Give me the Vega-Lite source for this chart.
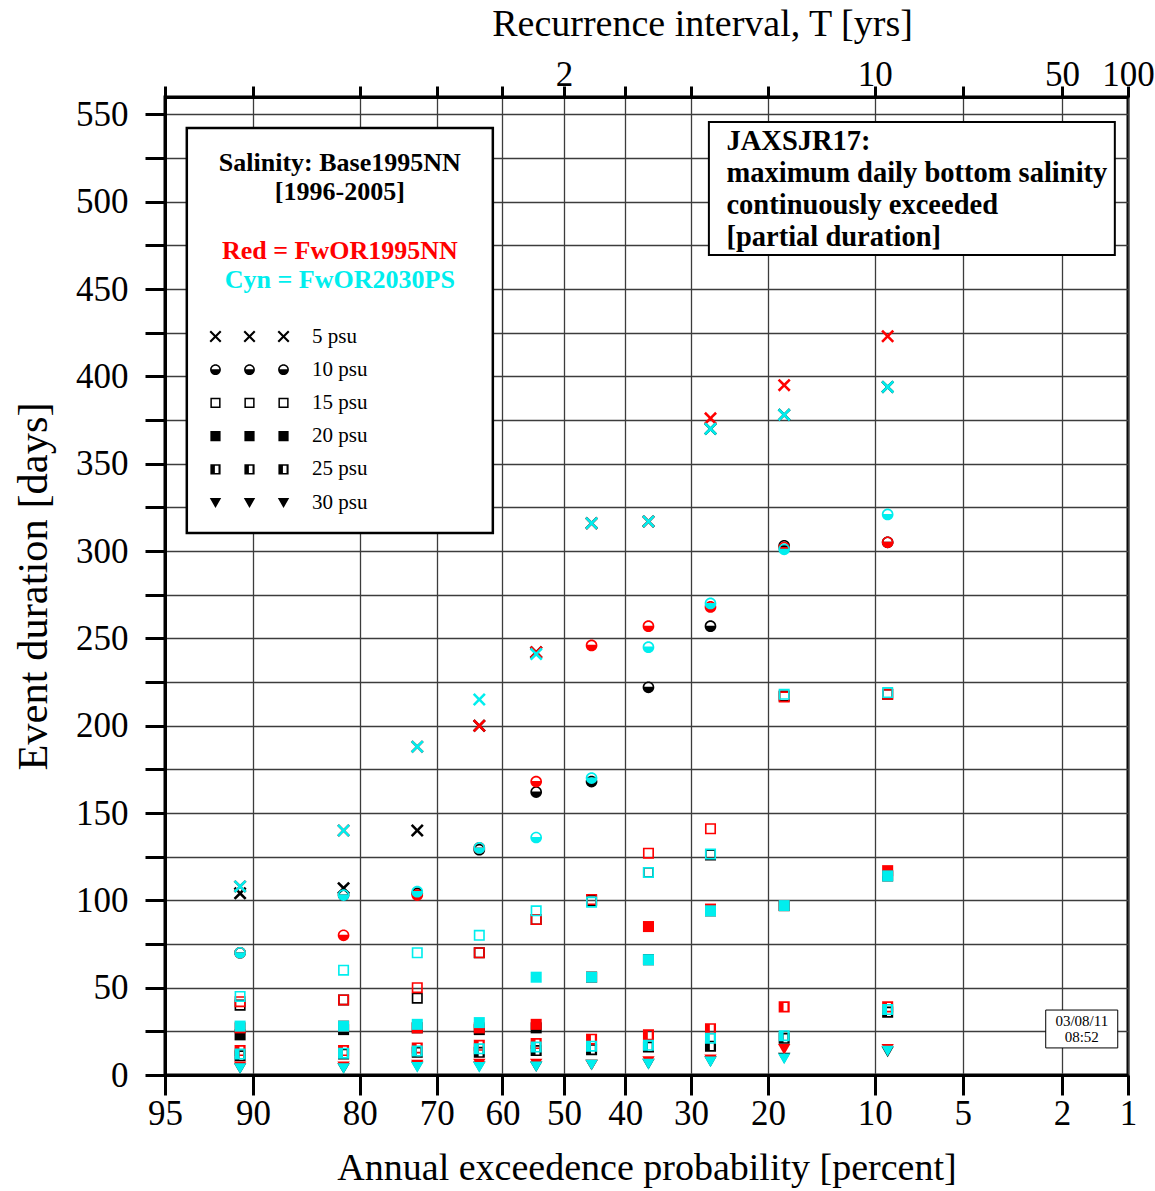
{
"$schema":"https://vega.github.io/schema/vega-lite/v6.json",
"width":963,"height":978,
"autosize":{"type":"none"},
"padding":{"left":165,"top":97,"right":27,"bottom":116},
"background":"white",
"config":{"view":{"stroke":"black","strokeWidth":3},
"axis":{"labelFont":"Liberation Serif","titleFont":"Liberation Serif","labelColor":"black","titleColor":"black","titleFontWeight":"normal","domainColor":"black","domainWidth":3,"tickColor":"black","tickWidth":3,"gridColor":"#3c3c3c","gridWidth":1.3,"gridOpacity":1,"labelFlush":false,"labelOverlap":false,"labelBound":false},
"text":{"font":"Liberation Serif"}},
"resolve":{"scale":{"shape":"independent"},"axis":{"x":"independent","y":"independent"}},
"layer":[
{"data":{"values":[
{"aep":90.91,"z":-1.3352,"psu":"5 psu","run":"Base1995NN","days":104},
{"aep":81.82,"z":-0.9085,"psu":"5 psu","run":"Base1995NN","days":107},
{"aep":72.73,"z":-0.6046,"psu":"5 psu","run":"Base1995NN","days":140},
{"aep":63.64,"z":-0.3488,"psu":"5 psu","run":"Base1995NN","days":200},
{"aep":54.55,"z":-0.1142,"psu":"5 psu","run":"Base1995NN","days":242},
{"aep":45.45,"z":0.1142,"psu":"5 psu","run":"Base1995NN","days":316},
{"aep":36.36,"z":0.3488,"psu":"5 psu","run":"Base1995NN","days":317},
{"aep":27.27,"z":0.6046,"psu":"5 psu","run":"Base1995NN","days":370},
{"aep":18.18,"z":0.9085,"psu":"5 psu","run":"Base1995NN","days":378},
{"aep":9.09,"z":1.3352,"psu":"5 psu","run":"Base1995NN","days":394},
{"aep":90.91,"z":-1.3352,"psu":"10 psu","run":"Base1995NN","days":70},
{"aep":81.82,"z":-0.9085,"psu":"10 psu","run":"Base1995NN","days":103},
{"aep":72.73,"z":-0.6046,"psu":"10 psu","run":"Base1995NN","days":104},
{"aep":63.64,"z":-0.3488,"psu":"10 psu","run":"Base1995NN","days":129},
{"aep":54.55,"z":-0.1142,"psu":"10 psu","run":"Base1995NN","days":162},
{"aep":45.45,"z":0.1142,"psu":"10 psu","run":"Base1995NN","days":168},
{"aep":36.36,"z":0.3488,"psu":"10 psu","run":"Base1995NN","days":222},
{"aep":27.27,"z":0.6046,"psu":"10 psu","run":"Base1995NN","days":257},
{"aep":18.18,"z":0.9085,"psu":"10 psu","run":"Base1995NN","days":303},
{"aep":9.09,"z":1.3352,"psu":"10 psu","run":"Base1995NN","days":305},
{"aep":90.91,"z":-1.3352,"psu":"15 psu","run":"Base1995NN","days":40},
{"aep":81.82,"z":-0.9085,"psu":"15 psu","run":"Base1995NN","days":43},
{"aep":72.73,"z":-0.6046,"psu":"15 psu","run":"Base1995NN","days":44},
{"aep":63.64,"z":-0.3488,"psu":"15 psu","run":"Base1995NN","days":70},
{"aep":54.55,"z":-0.1142,"psu":"15 psu","run":"Base1995NN","days":89},
{"aep":45.45,"z":0.1142,"psu":"15 psu","run":"Base1995NN","days":100},
{"aep":36.36,"z":0.3488,"psu":"15 psu","run":"Base1995NN","days":116},
{"aep":27.27,"z":0.6046,"psu":"15 psu","run":"Base1995NN","days":126},
{"aep":18.18,"z":0.9085,"psu":"15 psu","run":"Base1995NN","days":217},
{"aep":9.09,"z":1.3352,"psu":"15 psu","run":"Base1995NN","days":218},
{"aep":90.91,"z":-1.3352,"psu":"20 psu","run":"Base1995NN","days":23},
{"aep":81.82,"z":-0.9085,"psu":"20 psu","run":"Base1995NN","days":26},
{"aep":72.73,"z":-0.6046,"psu":"20 psu","run":"Base1995NN","days":27},
{"aep":63.64,"z":-0.3488,"psu":"20 psu","run":"Base1995NN","days":26},
{"aep":54.55,"z":-0.1142,"psu":"20 psu","run":"Base1995NN","days":27},
{"aep":45.45,"z":0.1142,"psu":"20 psu","run":"Base1995NN","days":56},
{"aep":36.36,"z":0.3488,"psu":"20 psu","run":"Base1995NN","days":66},
{"aep":27.27,"z":0.6046,"psu":"20 psu","run":"Base1995NN","days":94},
{"aep":18.18,"z":0.9085,"psu":"20 psu","run":"Base1995NN","days":97},
{"aep":9.09,"z":1.3352,"psu":"20 psu","run":"Base1995NN","days":114},
{"aep":90.91,"z":-1.3352,"psu":"25 psu","run":"Base1995NN","days":11},
{"aep":81.82,"z":-0.9085,"psu":"25 psu","run":"Base1995NN","days":12},
{"aep":72.73,"z":-0.6046,"psu":"25 psu","run":"Base1995NN","days":13},
{"aep":63.64,"z":-0.3488,"psu":"25 psu","run":"Base1995NN","days":13},
{"aep":54.55,"z":-0.1142,"psu":"25 psu","run":"Base1995NN","days":14},
{"aep":45.45,"z":0.1142,"psu":"25 psu","run":"Base1995NN","days":14.5},
{"aep":36.36,"z":0.3488,"psu":"25 psu","run":"Base1995NN","days":16},
{"aep":27.27,"z":0.6046,"psu":"25 psu","run":"Base1995NN","days":16.5},
{"aep":18.18,"z":0.9085,"psu":"25 psu","run":"Base1995NN","days":21},
{"aep":9.09,"z":1.3352,"psu":"25 psu","run":"Base1995NN","days":36},
{"aep":90.91,"z":-1.3352,"psu":"30 psu","run":"Base1995NN","days":4},
{"aep":81.82,"z":-0.9085,"psu":"30 psu","run":"Base1995NN","days":4},
{"aep":72.73,"z":-0.6046,"psu":"30 psu","run":"Base1995NN","days":5},
{"aep":63.64,"z":-0.3488,"psu":"30 psu","run":"Base1995NN","days":5},
{"aep":54.55,"z":-0.1142,"psu":"30 psu","run":"Base1995NN","days":5},
{"aep":45.45,"z":0.1142,"psu":"30 psu","run":"Base1995NN","days":6},
{"aep":36.36,"z":0.3488,"psu":"30 psu","run":"Base1995NN","days":6.5},
{"aep":27.27,"z":0.6046,"psu":"30 psu","run":"Base1995NN","days":8},
{"aep":18.18,"z":0.9085,"psu":"30 psu","run":"Base1995NN","days":10},
{"aep":9.09,"z":1.3352,"psu":"30 psu","run":"Base1995NN","days":13.5},
{"aep":90.91,"z":-1.3352,"psu":"5 psu","run":"FwOR1995NN","days":108},
{"aep":81.82,"z":-0.9085,"psu":"5 psu","run":"FwOR1995NN","days":140},
{"aep":72.73,"z":-0.6046,"psu":"5 psu","run":"FwOR1995NN","days":188},
{"aep":63.64,"z":-0.3488,"psu":"5 psu","run":"FwOR1995NN","days":200},
{"aep":54.55,"z":-0.1142,"psu":"5 psu","run":"FwOR1995NN","days":242},
{"aep":45.45,"z":0.1142,"psu":"5 psu","run":"FwOR1995NN","days":316},
{"aep":36.36,"z":0.3488,"psu":"5 psu","run":"FwOR1995NN","days":317},
{"aep":27.27,"z":0.6046,"psu":"5 psu","run":"FwOR1995NN","days":376},
{"aep":18.18,"z":0.9085,"psu":"5 psu","run":"FwOR1995NN","days":395},
{"aep":9.09,"z":1.3352,"psu":"5 psu","run":"FwOR1995NN","days":423},
{"aep":90.91,"z":-1.3352,"psu":"10 psu","run":"FwOR1995NN","days":70},
{"aep":81.82,"z":-0.9085,"psu":"10 psu","run":"FwOR1995NN","days":80},
{"aep":72.73,"z":-0.6046,"psu":"10 psu","run":"FwOR1995NN","days":103},
{"aep":63.64,"z":-0.3488,"psu":"10 psu","run":"FwOR1995NN","days":130},
{"aep":54.55,"z":-0.1142,"psu":"10 psu","run":"FwOR1995NN","days":168},
{"aep":45.45,"z":0.1142,"psu":"10 psu","run":"FwOR1995NN","days":246},
{"aep":36.36,"z":0.3488,"psu":"10 psu","run":"FwOR1995NN","days":257},
{"aep":27.27,"z":0.6046,"psu":"10 psu","run":"FwOR1995NN","days":268},
{"aep":18.18,"z":0.9085,"psu":"10 psu","run":"FwOR1995NN","days":302},
{"aep":9.09,"z":1.3352,"psu":"10 psu","run":"FwOR1995NN","days":305},
{"aep":90.91,"z":-1.3352,"psu":"15 psu","run":"FwOR1995NN","days":42},
{"aep":81.82,"z":-0.9085,"psu":"15 psu","run":"FwOR1995NN","days":43},
{"aep":72.73,"z":-0.6046,"psu":"15 psu","run":"FwOR1995NN","days":50},
{"aep":63.64,"z":-0.3488,"psu":"15 psu","run":"FwOR1995NN","days":70},
{"aep":54.55,"z":-0.1142,"psu":"15 psu","run":"FwOR1995NN","days":89},
{"aep":45.45,"z":0.1142,"psu":"15 psu","run":"FwOR1995NN","days":100.5},
{"aep":36.36,"z":0.3488,"psu":"15 psu","run":"FwOR1995NN","days":127},
{"aep":27.27,"z":0.6046,"psu":"15 psu","run":"FwOR1995NN","days":141},
{"aep":18.18,"z":0.9085,"psu":"15 psu","run":"FwOR1995NN","days":216.5},
{"aep":9.09,"z":1.3352,"psu":"15 psu","run":"FwOR1995NN","days":218},
{"aep":90.91,"z":-1.3352,"psu":"20 psu","run":"FwOR1995NN","days":27},
{"aep":81.82,"z":-0.9085,"psu":"20 psu","run":"FwOR1995NN","days":28},
{"aep":72.73,"z":-0.6046,"psu":"20 psu","run":"FwOR1995NN","days":27},
{"aep":63.64,"z":-0.3488,"psu":"20 psu","run":"FwOR1995NN","days":27},
{"aep":54.55,"z":-0.1142,"psu":"20 psu","run":"FwOR1995NN","days":29},
{"aep":45.45,"z":0.1142,"psu":"20 psu","run":"FwOR1995NN","days":56},
{"aep":36.36,"z":0.3488,"psu":"20 psu","run":"FwOR1995NN","days":85},
{"aep":27.27,"z":0.6046,"psu":"20 psu","run":"FwOR1995NN","days":95},
{"aep":18.18,"z":0.9085,"psu":"20 psu","run":"FwOR1995NN","days":97},
{"aep":9.09,"z":1.3352,"psu":"20 psu","run":"FwOR1995NN","days":117},
{"aep":90.91,"z":-1.3352,"psu":"25 psu","run":"FwOR1995NN","days":14},
{"aep":81.82,"z":-0.9085,"psu":"25 psu","run":"FwOR1995NN","days":14},
{"aep":72.73,"z":-0.6046,"psu":"25 psu","run":"FwOR1995NN","days":15.5},
{"aep":63.64,"z":-0.3488,"psu":"25 psu","run":"FwOR1995NN","days":17},
{"aep":54.55,"z":-0.1142,"psu":"25 psu","run":"FwOR1995NN","days":18},
{"aep":45.45,"z":0.1142,"psu":"25 psu","run":"FwOR1995NN","days":20.5},
{"aep":36.36,"z":0.3488,"psu":"25 psu","run":"FwOR1995NN","days":23},
{"aep":27.27,"z":0.6046,"psu":"25 psu","run":"FwOR1995NN","days":26.5},
{"aep":18.18,"z":0.9085,"psu":"25 psu","run":"FwOR1995NN","days":39},
{"aep":9.09,"z":1.3352,"psu":"25 psu","run":"FwOR1995NN","days":39},
{"aep":90.91,"z":-1.3352,"psu":"30 psu","run":"FwOR1995NN","days":5},
{"aep":81.82,"z":-0.9085,"psu":"30 psu","run":"FwOR1995NN","days":5},
{"aep":72.73,"z":-0.6046,"psu":"30 psu","run":"FwOR1995NN","days":6},
{"aep":63.64,"z":-0.3488,"psu":"30 psu","run":"FwOR1995NN","days":6.5},
{"aep":54.55,"z":-0.1142,"psu":"30 psu","run":"FwOR1995NN","days":6.5},
{"aep":45.45,"z":0.1142,"psu":"30 psu","run":"FwOR1995NN","days":6},
{"aep":36.36,"z":0.3488,"psu":"30 psu","run":"FwOR1995NN","days":8},
{"aep":27.27,"z":0.6046,"psu":"30 psu","run":"FwOR1995NN","days":9},
{"aep":18.18,"z":0.9085,"psu":"30 psu","run":"FwOR1995NN","days":15},
{"aep":9.09,"z":1.3352,"psu":"30 psu","run":"FwOR1995NN","days":15},
{"aep":90.91,"z":-1.3352,"psu":"5 psu","run":"FwOR2030PS","days":108},
{"aep":81.82,"z":-0.9085,"psu":"5 psu","run":"FwOR2030PS","days":140},
{"aep":72.73,"z":-0.6046,"psu":"5 psu","run":"FwOR2030PS","days":188},
{"aep":63.64,"z":-0.3488,"psu":"5 psu","run":"FwOR2030PS","days":215},
{"aep":54.55,"z":-0.1142,"psu":"5 psu","run":"FwOR2030PS","days":241},
{"aep":45.45,"z":0.1142,"psu":"5 psu","run":"FwOR2030PS","days":316},
{"aep":36.36,"z":0.3488,"psu":"5 psu","run":"FwOR2030PS","days":317},
{"aep":27.27,"z":0.6046,"psu":"5 psu","run":"FwOR2030PS","days":370},
{"aep":18.18,"z":0.9085,"psu":"5 psu","run":"FwOR2030PS","days":378},
{"aep":9.09,"z":1.3352,"psu":"5 psu","run":"FwOR2030PS","days":394},
{"aep":90.91,"z":-1.3352,"psu":"10 psu","run":"FwOR2030PS","days":70},
{"aep":81.82,"z":-0.9085,"psu":"10 psu","run":"FwOR2030PS","days":103},
{"aep":72.73,"z":-0.6046,"psu":"10 psu","run":"FwOR2030PS","days":105},
{"aep":63.64,"z":-0.3488,"psu":"10 psu","run":"FwOR2030PS","days":130},
{"aep":54.55,"z":-0.1142,"psu":"10 psu","run":"FwOR2030PS","days":136},
{"aep":45.45,"z":0.1142,"psu":"10 psu","run":"FwOR2030PS","days":170},
{"aep":36.36,"z":0.3488,"psu":"10 psu","run":"FwOR2030PS","days":245},
{"aep":27.27,"z":0.6046,"psu":"10 psu","run":"FwOR2030PS","days":270},
{"aep":18.18,"z":0.9085,"psu":"10 psu","run":"FwOR2030PS","days":301},
{"aep":9.09,"z":1.3352,"psu":"10 psu","run":"FwOR2030PS","days":321},
{"aep":90.91,"z":-1.3352,"psu":"15 psu","run":"FwOR2030PS","days":45},
{"aep":81.82,"z":-0.9085,"psu":"15 psu","run":"FwOR2030PS","days":60},
{"aep":72.73,"z":-0.6046,"psu":"15 psu","run":"FwOR2030PS","days":70},
{"aep":63.64,"z":-0.3488,"psu":"15 psu","run":"FwOR2030PS","days":80},
{"aep":54.55,"z":-0.1142,"psu":"15 psu","run":"FwOR2030PS","days":94},
{"aep":45.45,"z":0.1142,"psu":"15 psu","run":"FwOR2030PS","days":99},
{"aep":36.36,"z":0.3488,"psu":"15 psu","run":"FwOR2030PS","days":116},
{"aep":27.27,"z":0.6046,"psu":"15 psu","run":"FwOR2030PS","days":126.5},
{"aep":18.18,"z":0.9085,"psu":"15 psu","run":"FwOR2030PS","days":218},
{"aep":9.09,"z":1.3352,"psu":"15 psu","run":"FwOR2030PS","days":219},
{"aep":90.91,"z":-1.3352,"psu":"20 psu","run":"FwOR2030PS","days":28},
{"aep":81.82,"z":-0.9085,"psu":"20 psu","run":"FwOR2030PS","days":28},
{"aep":72.73,"z":-0.6046,"psu":"20 psu","run":"FwOR2030PS","days":29},
{"aep":63.64,"z":-0.3488,"psu":"20 psu","run":"FwOR2030PS","days":30},
{"aep":54.55,"z":-0.1142,"psu":"20 psu","run":"FwOR2030PS","days":56},
{"aep":45.45,"z":0.1142,"psu":"20 psu","run":"FwOR2030PS","days":56},
{"aep":36.36,"z":0.3488,"psu":"20 psu","run":"FwOR2030PS","days":66},
{"aep":27.27,"z":0.6046,"psu":"20 psu","run":"FwOR2030PS","days":94},
{"aep":18.18,"z":0.9085,"psu":"20 psu","run":"FwOR2030PS","days":97},
{"aep":9.09,"z":1.3352,"psu":"20 psu","run":"FwOR2030PS","days":114},
{"aep":90.91,"z":-1.3352,"psu":"25 psu","run":"FwOR2030PS","days":12},
{"aep":81.82,"z":-0.9085,"psu":"25 psu","run":"FwOR2030PS","days":12.5},
{"aep":72.73,"z":-0.6046,"psu":"25 psu","run":"FwOR2030PS","days":13.7},
{"aep":63.64,"z":-0.3488,"psu":"25 psu","run":"FwOR2030PS","days":15},
{"aep":54.55,"z":-0.1142,"psu":"25 psu","run":"FwOR2030PS","days":16},
{"aep":45.45,"z":0.1142,"psu":"25 psu","run":"FwOR2030PS","days":16.5},
{"aep":36.36,"z":0.3488,"psu":"25 psu","run":"FwOR2030PS","days":17},
{"aep":27.27,"z":0.6046,"psu":"25 psu","run":"FwOR2030PS","days":21},
{"aep":18.18,"z":0.9085,"psu":"25 psu","run":"FwOR2030PS","days":22.5},
{"aep":9.09,"z":1.3352,"psu":"25 psu","run":"FwOR2030PS","days":37.5},
{"aep":90.91,"z":-1.3352,"psu":"30 psu","run":"FwOR2030PS","days":4},
{"aep":81.82,"z":-0.9085,"psu":"30 psu","run":"FwOR2030PS","days":4},
{"aep":72.73,"z":-0.6046,"psu":"30 psu","run":"FwOR2030PS","days":4.6},
{"aep":63.64,"z":-0.3488,"psu":"30 psu","run":"FwOR2030PS","days":4.6},
{"aep":54.55,"z":-0.1142,"psu":"30 psu","run":"FwOR2030PS","days":5},
{"aep":45.45,"z":0.1142,"psu":"30 psu","run":"FwOR2030PS","days":6},
{"aep":36.36,"z":0.3488,"psu":"30 psu","run":"FwOR2030PS","days":6.5},
{"aep":27.27,"z":0.6046,"psu":"30 psu","run":"FwOR2030PS","days":7.8},
{"aep":18.18,"z":0.9085,"psu":"30 psu","run":"FwOR2030PS","days":9.5},
{"aep":9.09,"z":1.3352,"psu":"30 psu","run":"FwOR2030PS","days":14}
]},
"mark":{"type":"point","filled":true,"size":169,"opacity":1,"strokeWidth":0},
"encoding":{
"x":{"field":"z","type":"quantitative","scale":{"domain":[-1.6449,2.3263],"nice":false,"zero":false},
"axis":{"orient":"bottom","values":[-1.6449,-1.2816,-0.8416,-0.5244,-0.2533,0,0.2533,0.5244,0.8416,1.2816,1.6449,2.0537,2.3263],"labelExpr":"format(100 - 100 * cumulativeNormal(datum.value), '.0f')","labelFontSize":35,"labelPadding":1,"tickSize":20,"title":"Annual exceedence probability [percent]","titleFontSize":38,"titlePadding":18,"grid":true}},
"y":{"field":"days","type":"quantitative","scale":{"domain":[0,560],"nice":false,"zero":true},
"axis":{"orient":"left","values":[0,25,50,75,100,125,150,175,200,225,250,275,300,325,350,375,400,425,450,475,500,525,550],"labelExpr":"datum.value % 50 === 0 ? datum.label : ''","labelFontSize":35,"labelPadding":17,"tickSize":20,"title":"Event duration [days]","titleFontSize":42.5,"titlePadding":20,"grid":true,"encode":{"ticks":{"update":{"x2":{"signal":"datum.value % 50 === 0 ? -20 : -10"}}}}}},
"shape":{"field":"psu","type":"nominal","scale":{"domain":["5 psu","10 psu","15 psu","20 psu","25 psu","30 psu"],"range":[
"M-1,-0.72L-0.72,-1L0,-0.28L0.72,-1L1,-0.72L0.28,0L1,0.72L0.72,1L0,0.28L-0.72,1L-1,0.72L-0.28,0Z",
"M0.9,0A0.9,0.9 0 1 1 -0.9,0A0.9,0.9 0 1 1 0.9,0ZM0.645,-0.08A0.65,0.65 0 0 0 -0.645,-0.08Z",
"M-0.85,-0.85L0.85,-0.85L0.85,0.85L-0.85,0.85ZM-0.6,-0.6L-0.6,0.6L0.6,0.6L0.6,-0.6Z",
"M-0.85,-0.85L0.85,-0.85L0.85,0.85L-0.85,0.85Z",
"M-0.85,-0.85L0.85,-0.85L0.85,0.85L-0.85,0.85ZM-0.1,-0.6L-0.1,0.6L0.5,0.6L0.5,-0.6Z",
"M-0.95,-0.75L0.95,-0.75L0,0.9Z"]},"legend":null},
"color":{"field":"run","type":"nominal","scale":{"domain":["Base1995NN","FwOR1995NN","FwOR2030PS"],"range":["#000000","#ff0000","#00eeee"]},"legend":null}
}},
{"data":{"values":[{}]},
"mark":{"type":"rect","fill":"white","stroke":"black","strokeWidth":2},
"encoding":{
"x":{"datum":0.598,"type":"quantitative","axis":{"orient":"top","values":[-1.6449,-1.2816,-0.8416,-0.5244,-0.2533,0,0.2533,0.5244,0.8416,1.2816,1.6449,2.0537,2.3263],"labelExpr":"abs(datum.value) < 0.001 ? '2' : abs(datum.value - 1.2816) < 0.001 ? '10' : abs(datum.value - 2.0537) < 0.001 ? '50' : abs(datum.value - 2.3263) < 0.001 ? '100' : ''","labelFontSize":35,"labelPadding":-6,"tickSize":11,"title":"Recurrence interval, T [yrs]","titleFontSize":38,"titlePadding":14,"titleX":537,"grid":false}},
"x2":{"datum":2.272},
"y":{"datum":545.7,"type":"quantitative","axis":null},
"y2":{"datum":469.5}}},
{"data":{"values":[{}]},
"mark":{"type":"rect","fill":"white","stroke":"black","strokeWidth":2.5},
"encoding":{"x":{"datum":-1.555,"type":"quantitative","axis":null},"x2":{"datum":-0.293},"y":{"datum":542.2,"type":"quantitative","axis":null},"y2":{"datum":310.3}}},
{"data":{"values":[{}]},
"mark":{"type":"rect","fill":"white","stroke":"black","strokeWidth":1},
"encoding":{"x":{"datum":1.987,"type":"quantitative","axis":null},"x2":{"datum":2.284},"y":{"datum":37.2,"type":"quantitative","axis":null},"y2":{"datum":15.5}}},
{"data":{"values":[{}]},"mark":{"type":"text","text":"Salinity: Base1995NN","fontSize":26,"fontWeight":"bold","color":"black","align":"center","baseline":"middle"},
"encoding":{"x":{"datum":-0.924,"type":"quantitative","axis":null},"y":{"datum":522.2,"type":"quantitative","axis":null}}},
{"data":{"values":[{}]},"mark":{"type":"text","text":"[1996-2005]","fontSize":26,"fontWeight":"bold","color":"black","align":"center","baseline":"middle"},
"encoding":{"x":{"datum":-0.924,"type":"quantitative","axis":null},"y":{"datum":505.6,"type":"quantitative","axis":null}}},
{"data":{"values":[{}]},"mark":{"type":"text","text":"Red = FwOR1995NN","fontSize":26,"fontWeight":"bold","color":"#ff0000","align":"center","baseline":"middle"},
"encoding":{"x":{"datum":-0.924,"type":"quantitative","axis":null},"y":{"datum":471.8,"type":"quantitative","axis":null}}},
{"data":{"values":[{}]},"mark":{"type":"text","text":"Cyn = FwOR2030PS","fontSize":26,"fontWeight":"bold","color":"#00eeee","align":"center","baseline":"middle"},
"encoding":{"x":{"datum":-0.924,"type":"quantitative","axis":null},"y":{"datum":455.2,"type":"quantitative","axis":null}}},
{"data":{"values":[{}]},"mark":{"type":"text","text":"JAXSJR17:","fontSize":28.5,"fontWeight":"bold","color":"black","align":"left","baseline":"middle"},
"encoding":{"x":{"datum":0.6705,"type":"quantitative","axis":null},"y":{"datum":534.8,"type":"quantitative","axis":null}}},
{"data":{"values":[{}]},"mark":{"type":"text","text":"maximum daily bottom salinity","fontSize":28.5,"fontWeight":"bold","color":"black","align":"left","baseline":"middle"},
"encoding":{"x":{"datum":0.6705,"type":"quantitative","axis":null},"y":{"datum":516.5,"type":"quantitative","axis":null}}},
{"data":{"values":[{}]},"mark":{"type":"text","text":"continuously exceeded","fontSize":28.5,"fontWeight":"bold","color":"black","align":"left","baseline":"middle"},
"encoding":{"x":{"datum":0.6705,"type":"quantitative","axis":null},"y":{"datum":498.2,"type":"quantitative","axis":null}}},
{"data":{"values":[{}]},"mark":{"type":"text","text":"[partial duration]","fontSize":28.5,"fontWeight":"bold","color":"black","align":"left","baseline":"middle"},
"encoding":{"x":{"datum":0.6705,"type":"quantitative","axis":null},"y":{"datum":479.8,"type":"quantitative","axis":null}}},
{"data":{"values":[{}]},"mark":{"type":"text","text":"03/08/11","fontSize":15,"color":"black","align":"center","baseline":"middle"},
"encoding":{"x":{"datum":2.1357,"type":"quantitative","axis":null},"y":{"datum":30.9,"type":"quantitative","axis":null}}},
{"data":{"values":[{}]},"mark":{"type":"text","text":"08:52","fontSize":15,"color":"black","align":"center","baseline":"middle"},
"encoding":{"x":{"datum":2.1357,"type":"quantitative","axis":null},"y":{"datum":21.8,"type":"quantitative","axis":null}}},
{"data":{"values":[{"psu":"5 psu"},{"psu":"10 psu"},{"psu":"15 psu"},{"psu":"20 psu"},{"psu":"25 psu"},{"psu":"30 psu"}]},
"transform":[{"filter":"datum.psu === 'none'"}],
"mark":{"type":"point","filled":true,"color":"black","opacity":1,"size":144,"strokeWidth":0},
"encoding":{"shape":{"field":"psu","type":"nominal","scale":{"domain":["5 psu","10 psu","15 psu","20 psu","25 psu","30 psu"],"range":[
"M-6.67,-0.75L-6.42,-1L-5.67,-0.25L-4.92,-1L-4.67,-0.75L-5.42,0L-4.67,0.75L-4.92,1L-5.67,0.25L-6.42,1L-6.67,0.75L-5.92,0ZM-1,-0.75L-0.75,-1L0,-0.25L0.75,-1L1,-0.75L0.25,0L1,0.75L0.75,1L0,0.25L-0.75,1L-1,0.75L-0.25,0ZM4.67,-0.75L4.92,-1L5.67,-0.25L6.42,-1L6.67,-0.75L5.92,0L6.67,0.75L6.42,1L5.67,0.25L4.92,1L4.67,0.75L5.42,0Z",
"M-4.77,0A0.9,0.9 0 1 1 -6.57,0A0.9,0.9 0 1 1 -4.77,0ZM-5.025,-0.08A0.65,0.65 0 0 0 -6.315,-0.08ZM0.9,0A0.9,0.9 0 1 1 -0.9,0A0.9,0.9 0 1 1 0.9,0ZM0.645,-0.08A0.65,0.65 0 0 0 -0.645,-0.08ZM6.57,0A0.9,0.9 0 1 1 4.77,0A0.9,0.9 0 1 1 6.57,0ZM6.315,-0.08A0.65,0.65 0 0 0 5.025,-0.08Z",
"M-6.52,-0.85L-4.82,-0.85L-4.82,0.85L-6.52,0.85ZM-6.27,-0.6L-6.27,0.6L-5.07,0.6L-5.07,-0.6ZM-0.85,-0.85L0.85,-0.85L0.85,0.85L-0.85,0.85ZM-0.6,-0.6L-0.6,0.6L0.6,0.6L0.6,-0.6ZM4.82,-0.85L6.52,-0.85L6.52,0.85L4.82,0.85ZM5.07,-0.6L5.07,0.6L6.27,0.6L6.27,-0.6Z",
"M-6.52,-0.85L-4.82,-0.85L-4.82,0.85L-6.52,0.85ZM-0.85,-0.85L0.85,-0.85L0.85,0.85L-0.85,0.85ZM4.82,-0.85L6.52,-0.85L6.52,0.85L4.82,0.85Z",
"M-6.52,-0.85L-4.82,-0.85L-4.82,0.85L-6.52,0.85ZM-5.77,-0.6L-5.77,0.6L-5.17,0.6L-5.17,-0.6ZM-0.85,-0.85L0.85,-0.85L0.85,0.85L-0.85,0.85ZM-0.1,-0.6L-0.1,0.6L0.5,0.6L0.5,-0.6ZM4.82,-0.85L6.52,-0.85L6.52,0.85L4.82,0.85ZM5.57,-0.6L5.57,0.6L6.17,0.6L6.17,-0.6Z",
"M-6.62,-0.75L-4.72,-0.75L-5.67,0.9ZM-0.95,-0.75L0.95,-0.75L0,0.9ZM4.72,-0.75L6.62,-0.75L5.67,0.9Z"]},
"legend":{"orient":"none","legendX":74,"legendY":229,"title":null,"symbolSize":144,"symbolFillColor":"black","symbolOpacity":1,"symbolStrokeWidth":0,"labelFont":"Liberation Serif","labelFontSize":21,"labelColor":"black","labelOffset":52,"rowPadding":11.2,"padding":0,"labelLimit":300}}}}
]
}
